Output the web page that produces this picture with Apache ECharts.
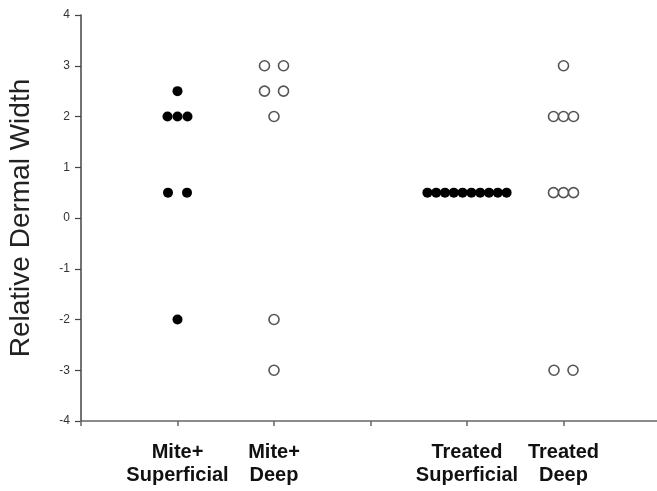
<!DOCTYPE html>
<html>
<head>
<meta charset="utf-8">
<script src="https://cdn.jsdelivr.net/npm/echarts@6/dist/echarts.min.js"></script>
<style>html,body{margin:0;padding:0;background:#fff;}#c{width:657px;height:491px;}</style>
</head>
<body>
<div id="c"></div>
<script>
// ---- data ----
const categories = ['Mite+\nSuperficial', 'Mite+\nDeep', 'Treated\nSuperficial', 'Treated\nDeep'];
const miteSuperficial = [2.5, 2, 2, 2, 0.5, 0.5, -2];
const miteDeep = [3, 3, 2.5, 2.5, 2, -2, -3];
const treatedSuperficial = [0.5, 0.5, 0.5, 0.5, 0.5, 0.5, 0.5, 0.5, 0.5, 0.5];
const treatedDeep = [3, 2, 2, 2, 0.5, 0.5, 0.5, -3, -3];
const yAxisTitle = 'Relative Dermal Width';

// ---- layout ----
const catPos = [1, 2, 4, 5];
function offsets(n) {
  if (n === 1) return [0];
  if (n === 2) return [-9.5, 9.5];
  const s = n > 3 ? 8.8 : 10;
  const out = [];
  for (let i = 0; i < n; i++) out.push((i - (n - 1) / 2) * s);
  return out;
}
function build(values, ci) {
  const groups = {};
  values.forEach(v => { (groups[v] = groups[v] || []).push(v); });
  const items = [];
  Object.keys(groups).forEach(k => {
    const g = groups[k];
    const offs = offsets(g.length);
    g.forEach((v, i) => items.push({ value: [catPos[ci], v], symbolOffset: [offs[i], 0] }));
  });
  return items;
}
const labelMap = {};
catPos.forEach((p, i) => labelMap[p] = categories[i]);

const filled = { color: '#000', borderColor: '#000', borderWidth: 0, opacity: 1 };
const open = { color: '#fff', borderColor: '#555', borderWidth: 1.6, opacity: 1 };

const chart = echarts.init(document.getElementById('c'), null, { renderer: 'canvas' });
chart.setOption({
  animation: false,
  backgroundColor: '#fff',
  grid: { left: 81, top: 15, width: 579, height: 406, containLabel: false, outerBoundsMode: 'none' },
  xAxis: {
    type: 'value', min: 0, max: 6, interval: 1,
    axisLine: { show: true, onZero: false, lineStyle: { color: '#666', width: 1.5 } },
    axisTick: { show: true, length: 5, inside: false, lineStyle: { color: '#666', width: 1.5 } },
    splitLine: { show: false },
    axisLabel: {
      margin: 20, color: '#111', fontFamily: 'Liberation Sans, Arial', fontWeight: 'bold',
      fontSize: 20, lineHeight: 23, align: 'center',
      formatter: v => labelMap[v] || ''
    }
  },
  yAxis: {
    type: 'value', min: -4, max: 4, interval: 1,
    name: yAxisTitle, nameLocation: 'middle', nameGap: 46, nameRotate: 90,
    nameTextStyle: { fontFamily: 'Liberation Sans, Arial', fontSize: 28, color: '#222' },
    axisLine: { show: true, onZero: false, lineStyle: { color: '#444', width: 1.5 } },
    axisTick: { show: true, length: 6, lineStyle: { color: '#444', width: 1.2 } },
    splitLine: { show: false },
    axisLabel: { margin: 11, color: '#333', fontFamily: 'Liberation Sans, Arial', fontSize: 12 }
  },
  series: [
    { type: 'scatter', symbol: 'circle', symbolSize: 10, itemStyle: filled, data: build(miteSuperficial, 0) },
    { type: 'scatter', symbol: 'circle', symbolSize: 10, itemStyle: open, data: build(miteDeep, 1) },
    { type: 'scatter', symbol: 'circle', symbolSize: 10, itemStyle: filled, data: build(treatedSuperficial, 2) },
    { type: 'scatter', symbol: 'circle', symbolSize: 10, itemStyle: open, data: build(treatedDeep, 3) }
  ]
});
</script>
</body>
</html>
